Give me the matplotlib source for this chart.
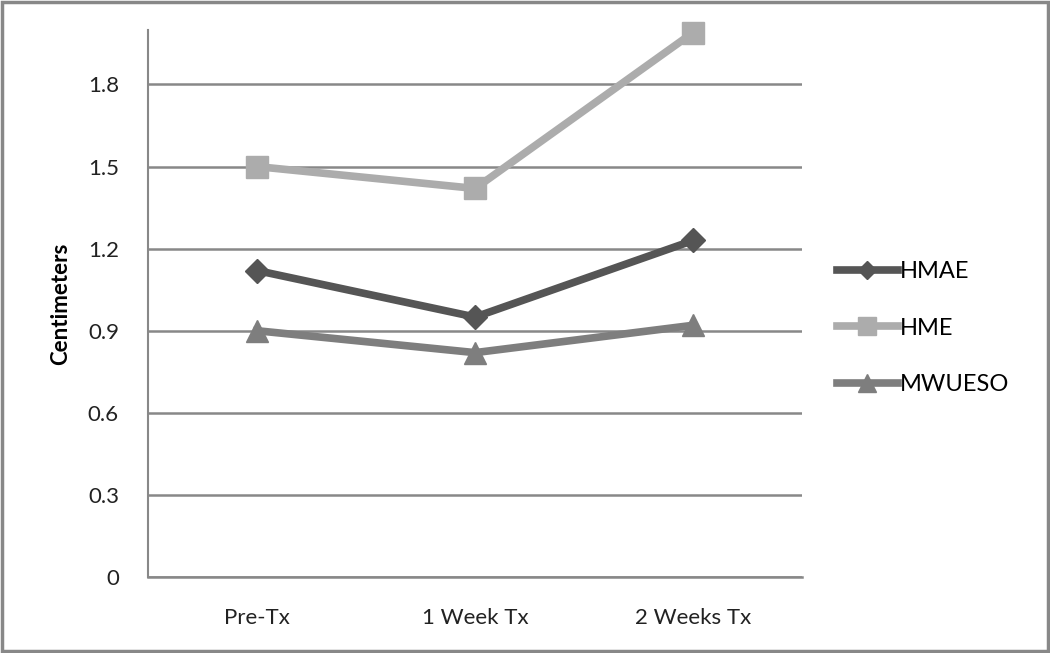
import matplotlib.pyplot as plt
import numpy as np

# data
categories = ["Pre-Tx", "1 Week Tx", "2 Weeks Tx"]
hmae = [1.12, 0.95, 1.23]
hme = [1.50, 1.42, 1.99]
mwueso = [0.90, 0.82, 0.92]
yticks = [0, 0.3, 0.6, 0.9, 1.2, 1.5, 1.8]

plt.rcParams['font.family'] = ['Lato', 'DejaVu Sans']

fig = plt.figure(figsize=(10.5, 6.53), dpi=100)
ax = fig.add_axes([0.141, 0.1164, 0.623, 0.838])

x = np.arange(len(categories))
ax.plot(x, hmae, '-D', color='#555555', lw=5.5, ms=12, label='HMAE', zorder=4, clip_on=False)
ax.plot(x, hme, '-s', color='#acacac', lw=5.5, ms=16, label='HME', zorder=3, clip_on=False)
ax.plot(x, mwueso, '-^', color='#7e7e7e', lw=5.5, ms=16, label='MWUESO', zorder=3, clip_on=False)

ax.set_xlim(-0.5, 2.5)
ax.set_ylim(0, 2.0)
ax.set_yticks(yticks)
ax.set_yticklabels(['0', '0.3', '0.6', '0.9', '1.2', '1.5', '1.8'])
ax.set_xticks(x)
ax.set_xticklabels(categories)
ax.tick_params(length=0, labelsize=16, colors='#222222')
ax.tick_params(axis='y', pad=21)
ax.tick_params(axis='x', pad=22)
ax.grid(axis='y', color='#888888', lw=1.8)
ax.set_axisbelow(True)
for s in ['top', 'right']:
    ax.spines[s].set_visible(False)
ax.spines['bottom'].set_color('#888888')
ax.spines['bottom'].set_linewidth(1.8)
ax.spines['left'].set_color('#888888')
ax.spines['left'].set_linewidth(1.5)
ax.set_ylabel("Centimeters", fontsize=16, fontweight='bold', labelpad=12)

leg = ax.legend(loc='center left', bbox_to_anchor=(1.02, 0.455), frameon=False,
                fontsize=17, handlelength=2.6, handletextpad=0.1,
                labelspacing=1.5, markerscale=0.8)

# figure border
border = plt.Rectangle((0.002, 0.003), 0.996, 0.994, transform=fig.transFigure,
                       fill=False, edgecolor='#888888', lw=2.5)
fig.patches.append(border)

plt.savefig('out.png', dpi=100)
